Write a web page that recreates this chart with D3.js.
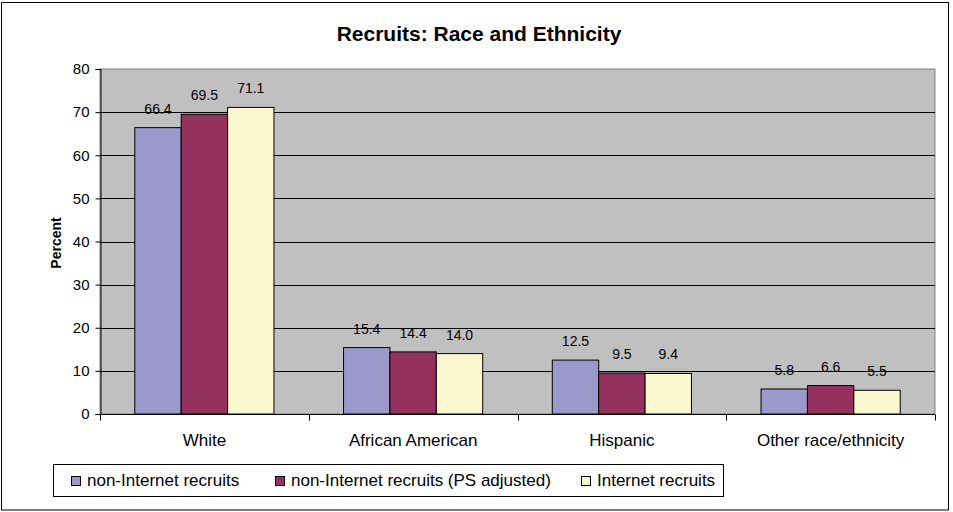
<!DOCTYPE html>
<html>
<head>
<meta charset="utf-8">
<script src="https://cdn.jsdelivr.net/npm/d3@7"></script>
<style>
  html, body { margin: 0; padding: 0; background: #fff; }
  svg { display: block; font-family: "Liberation Sans", Arial, sans-serif; }
</style>
</head>
<body>
<svg id="chart" width="953" height="512"></svg>
<script>
// Race and ethnicity of recruits, percent by recruitment group
const categories = ["White", "African American", "Hispanic", "Other race/ethnicity"];
const seriesNames = ["non-Internet recruits", "non-Internet recruits (PS adjusted)", "Internet recruits"];
const nonInternet = [66.4, 15.4, 12.5, 5.8];
const nonInternetAdjusted = [69.5, 14.4, 9.5, 6.6];
const internet = [71.1, 14.0, 9.4, 5.5];
const yTicks = [0, 10, 20, 30, 40, 50, 60, 70, 80];
const colors = ["#9b99cc", "#94315f", "#fbf8cf"];

const seriesValues = [nonInternet, nonInternetAdjusted, internet];

const svg = d3.select("#chart");
const plot = { left: 100, right: 935, top: 69, bottom: 414 };

// outer frame
svg.append("rect")
  .attr("x", 1.5).attr("y", 2.5).attr("width", 947).attr("height", 507.5)
  .attr("fill", "#fff").attr("stroke", "#000").attr("stroke-width", 1);

// title
svg.append("text")
  .attr("x", 479).attr("y", 41)
  .attr("text-anchor", "middle")
  .attr("font-size", 21).attr("font-weight", "bold")
  .text("Recruits: Race and Ethnicity");

const x0 = d3.scaleBand().domain(categories).range([plot.left, plot.right]).padding(0);
const x1 = d3.scaleBand().domain(d3.range(seriesNames.length))
  .range([0, x0.bandwidth()]).paddingInner(0).paddingOuter(0.75);
const y = d3.scaleLinear().domain([0, 80]).range([plot.bottom, plot.top]);

// plot background
svg.append("rect")
  .attr("x", plot.left).attr("y", plot.top)
  .attr("width", plot.right - plot.left).attr("height", plot.bottom - plot.top)
  .attr("fill", "#c0c0c0").attr("stroke", "#808080").attr("stroke-width", 1);

// gridlines
svg.append("g").selectAll("line")
  .data(yTicks.filter(t => t > 0 && t < 80))
  .join("line")
  .attr("x1", plot.left).attr("x2", plot.right)
  .attr("y1", d => Math.round(y(d)) + 0.5).attr("y2", d => Math.round(y(d)) + 0.5)
  .attr("stroke", "#000").attr("stroke-width", 1);

// bars
const groups = svg.append("g").selectAll("g")
  .data(categories)
  .join("g")
  .attr("transform", d => `translate(${x0(d)},0)`);

groups.selectAll("rect")
  .data((c, ci) => seriesValues.map((vals, si) => ({ si, v: vals[ci] })))
  .join("rect")
  .attr("x", d => x1(d.si))
  .attr("y", d => y(d.v))
  .attr("width", x1.bandwidth())
  .attr("height", d => y(0) - y(d.v))
  .attr("fill", d => colors[d.si])
  .attr("stroke", "#000").attr("stroke-width", 1);

groups.selectAll("text")
  .data((c, ci) => seriesValues.map((vals, si) => ({ si, v: vals[ci] })))
  .join("text")
  .attr("x", d => x1(d.si) + x1.bandwidth() / 2)
  .attr("y", d => y(d.v) - 14)
  .attr("text-anchor", "middle")
  .attr("font-size", 14)
  .attr("fill", "#000")
  .text(d => d.v.toFixed(1));

// y axis
const yAxis = d3.axisLeft(y).tickValues(yTicks).tickSize(5).tickPadding(6).tickFormat(d3.format("d"));
const gy = svg.append("g").attr("transform", `translate(${plot.left + 0.5},0)`).call(yAxis);
gy.selectAll("text").attr("font-size", 15).attr("font-family", "Liberation Sans, Arial, sans-serif").attr("fill", "#000");
gy.selectAll("line, path").attr("stroke", "#000");

// x axis
const xAxis = d3.axisBottom(x0).tickSize(0).tickPadding(0);
const gx = svg.append("g").attr("transform", `translate(0,${plot.bottom + 0.5})`).call(xAxis);
gx.select("path").attr("stroke", "#000").attr("d", `M${plot.left},0H${plot.right}`);
gx.selectAll(".tick text")
  .attr("font-size", 17).attr("font-family", "Liberation Sans, Arial, sans-serif").attr("fill", "#000")
  .attr("dy", null).attr("y", 31);
// category separator ticks
gx.append("g").selectAll("line")
  .data(categories.map(c => x0(c)).concat([plot.right]))
  .join("line")
  .attr("x1", d => Math.round(d) + 0.5).attr("x2", d => Math.round(d) + 0.5)
  .attr("y1", 0).attr("y2", 6)
  .attr("stroke", "#000");

// y axis title
svg.append("text")
  .attr("transform", "translate(61,243) rotate(-90)")
  .attr("text-anchor", "middle")
  .attr("font-size", 14).attr("font-weight", "bold")
  .text("Percent");

// legend
const legend = svg.append("g");
legend.append("rect")
  .attr("x", 53.5).attr("y", 464.5).attr("width", 670).attr("height", 32)
  .attr("fill", "#fff").attr("stroke", "#000").attr("stroke-width", 1);
const legendX = [71, 275, 581];
seriesNames.forEach((name, i) => {
  legend.append("rect")
    .attr("x", legendX[i] + 0.5).attr("y", 476.5).attr("width", 9).attr("height", 9)
    .attr("fill", colors[i]).attr("stroke", "#000").attr("stroke-width", 1);
  legend.append("text")
    .attr("x", legendX[i] + 16).attr("y", 486)
    .attr("font-size", 17)
    .text(name);
});
</script>
</body>
</html>
